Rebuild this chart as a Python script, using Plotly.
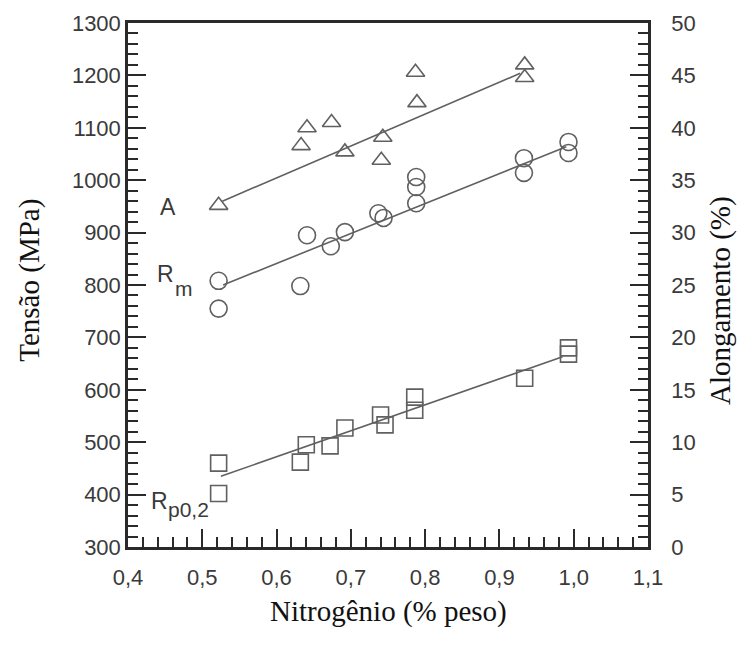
import plotly.graph_objects as go

# ---- data ----
n_A = [0.522, 0.633, 0.641, 0.674, 0.692, 0.741, 0.743, 0.787, 0.789, 0.934, 0.934]
along_A = [32.6, 38.3, 40.0, 40.5, 37.7, 36.9, 39.1, 45.3, 42.4, 46.0, 44.8]
fit_A_x = [0.527, 0.928]
fit_A_y = [33.0, 45.2]

n_Rm = [0.522, 0.522, 0.632, 0.641, 0.673, 0.692, 0.737, 0.744, 0.788, 0.788, 0.788, 0.933, 0.933, 0.993, 0.993]
Rm = [808, 755, 798, 895, 874, 901, 937, 928, 1006, 987, 956, 1042, 1014, 1073, 1052]
fit_Rm_x = [0.528, 0.990]
fit_Rm_y = [800, 1064]

n_Rp = [0.522, 0.522, 0.632, 0.640, 0.672, 0.692, 0.740, 0.746, 0.786, 0.786, 0.934, 0.993, 0.993]
Rp = [460, 402, 462, 495, 493, 527, 552, 533, 586, 561, 622, 680, 668]
fit_Rp_x = [0.525, 0.985]
fit_Rp_y = [435, 663]

x_ticks = [0.4, 0.5, 0.6, 0.7, 0.8, 0.9, 1.0, 1.1]
x_ticktext = ["0,4", "0,5", "0,6", "0,7", "0,8", "0,9", "1,0", "1,1"]
y_ticks = [300, 400, 500, 600, 700, 800, 900, 1000, 1100, 1200, 1300]
y2_ticks = [0, 5, 10, 15, 20, 25, 30, 35, 40, 45, 50]

MK = "#606060"
LN = "#606060"
AX = "#2a2a2a"
TXT = "#3a3a3a"

fig = go.Figure()
# fit lines
fig.add_trace(go.Scatter(x=fit_A_x, y=fit_A_y, yaxis="y2", mode="lines",
                         line=dict(color=LN, width=1.6), showlegend=False))
fig.add_trace(go.Scatter(x=fit_Rm_x, y=fit_Rm_y, mode="lines",
                         line=dict(color=LN, width=1.6), showlegend=False))
fig.add_trace(go.Scatter(x=fit_Rp_x, y=fit_Rp_y, mode="lines",
                         line=dict(color=LN, width=1.6), showlegend=False))
# markers
fig.add_trace(go.Scatter(x=n_A, y=along_A, yaxis="y2", mode="markers",
                         marker=dict(symbol="triangle-up-open", size=16, color=MK,
                                     line=dict(width=1.6, color=MK)), showlegend=False))
fig.add_trace(go.Scatter(x=n_Rm, y=Rm, mode="markers",
                         marker=dict(symbol="circle-open", size=17, color=MK,
                                     line=dict(width=1.6, color=MK)), showlegend=False))
fig.add_trace(go.Scatter(x=n_Rp, y=Rp, mode="markers",
                         marker=dict(symbol="square-open", size=16, color=MK,
                                     line=dict(width=1.6, color=MK)), showlegend=False))

tickfont = dict(family="Liberation Sans, Arial, sans-serif", size=22, color=TXT)
titlefont = dict(family="Liberation Serif, Times New Roman, serif", size=29, color="#111")

fig.update_layout(
    width=742, height=645,
    margin=dict(l=128, r=94, t=23, b=98),
    plot_bgcolor="white", paper_bgcolor="white",
    xaxis=dict(range=[0.4, 1.1], tickvals=x_ticks, ticktext=x_ticktext,
               ticks="inside", ticklen=18, tickwidth=2, tickcolor=AX,
               minor=dict(dtick=0.02, tick0=0.4, ticks="inside", ticklen=10, tickwidth=2, tickcolor=AX),
               showline=True, linecolor=AX, linewidth=2.5, mirror=True,
               showgrid=False, zeroline=False, tickfont=tickfont, ticklabelstandoff=9),
    yaxis=dict(range=[300, 1300], tickvals=y_ticks,
               ticks="inside", ticklen=18, tickwidth=2, tickcolor=AX,
               minor=dict(dtick=20, tick0=300, ticks="inside", ticklen=10, tickwidth=2, tickcolor=AX),
               showline=True, linecolor=AX, linewidth=2.5,
               showgrid=False, zeroline=False, tickfont=tickfont, ticklabelstandoff=0),
    yaxis2=dict(range=[0, 50], tickvals=y2_ticks, overlaying="y", side="right",
                ticks="inside", ticklen=18, tickwidth=2, tickcolor=AX,
                minor=dict(dtick=1, tick0=0, ticks="inside", ticklen=10, tickwidth=2, tickcolor=AX),
                showline=True, linecolor=AX, linewidth=2.5,
                showgrid=False, zeroline=False, tickfont=tickfont, ticklabelstandoff=16),
)

ann_font = dict(family="Liberation Sans, Arial, sans-serif", size=23, color=TXT)
sub_font = dict(family="Liberation Sans, Arial, sans-serif", size=21, color=TXT)
fig.add_annotation(x=0.454, y=949, xref="x", yref="y", text="A", showarrow=False,
                   font=ann_font, xanchor="center", yanchor="middle")
fig.add_annotation(x=0.451, y=821, xref="x", yref="y", text="R", showarrow=False,
                   font=ann_font, xanchor="center", yanchor="middle")
fig.add_annotation(x=0.4754, y=794, xref="x", yref="y", text="m", showarrow=False,
                   font=sub_font, xanchor="center", yanchor="middle")
fig.add_annotation(x=0.443, y=388, xref="x", yref="y", text="R", showarrow=False,
                   font=ann_font, xanchor="center", yanchor="middle")
fig.add_annotation(x=0.482, y=371, xref="x", yref="y", text="p0,2", showarrow=False,
                   font=sub_font, xanchor="center", yanchor="middle")

# axis titles
fig.add_annotation(x=-0.1885, y=0.51, xref="paper", yref="paper", text="Tensão (MPa)",
                   textangle=-90, showarrow=False, font=titlefont, xanchor="center", yanchor="middle")
fig.add_annotation(x=1.138, y=0.471, xref="paper", yref="paper", text="Alongamento (%)",
                   textangle=-90, showarrow=False, font=titlefont, xanchor="center", yanchor="middle")
fig.add_annotation(x=0.5, y=-0.123, xref="paper", yref="paper", text="Nitrogênio (% peso)",
                   showarrow=False, font=titlefont, xanchor="center", yanchor="middle")

fig.write_html("out.html")
